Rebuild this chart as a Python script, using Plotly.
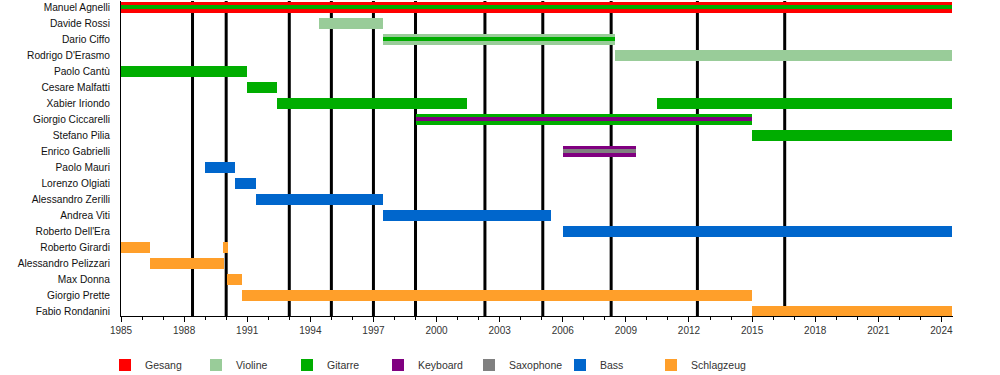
import plotly.graph_objects as go

members = ["Manuel Agnelli", "Davide Rossi", "Dario Ciffo", "Rodrigo D'Erasmo",
           "Paolo Cantù", "Cesare Malfatti", "Xabier Iriondo", "Giorgio Ciccarelli",
           "Stefano Pilia", "Enrico Gabrielli", "Paolo Mauri", "Lorenzo Olgiati",
           "Alessandro Zerilli", "Andrea Viti", "Roberto Dell'Era", "Roberto Girardi",
           "Alessandro Pelizzari", "Max Donna", "Giorgio Prette", "Fabio Rondanini"]

instruments = ["Gesang", "Violine", "Gitarre", "Keyboard", "Saxophone", "Bass", "Schlagzeug"]
colors = {"Gesang": "#FF0000", "Violine": "#99CC99", "Gitarre": "#00AD00",
          "Keyboard": "#800080", "Saxophone": "#808080", "Bass": "#0066CC",
          "Schlagzeug": "#FF9F2A"}

END = 2024.5

# main instrument of each stint: (member, instrument, start, end)
primary_stints = [
    ("Manuel Agnelli", "Gesang", 1985.0, END),
    ("Davide Rossi", "Violine", 1994.4, 1997.45),
    ("Dario Ciffo", "Violine", 1997.45, 2008.5),
    ("Rodrigo D'Erasmo", "Violine", 2008.5, END),
    ("Paolo Cantù", "Gitarre", 1985.0, 1991.0),
    ("Cesare Malfatti", "Gitarre", 1991.0, 1992.4),
    ("Xabier Iriondo", "Gitarre", 1992.4, 2001.47),
    ("Xabier Iriondo", "Gitarre", 2010.47, END),
    ("Giorgio Ciccarelli", "Gitarre", 1999.0, 2015.0),
    ("Stefano Pilia", "Gitarre", 2015.0, END),
    ("Enrico Gabrielli", "Keyboard", 2006.0, 2009.5),
    ("Paolo Mauri", "Bass", 1989.0, 1990.4),
    ("Lorenzo Olgiati", "Bass", 1990.4, 1991.4),
    ("Alessandro Zerilli", "Bass", 1991.4, 1997.45),
    ("Andrea Viti", "Bass", 1997.45, 2005.45),
    ("Roberto Dell'Era", "Bass", 2006.0, END),
    ("Roberto Girardi", "Schlagzeug", 1985.0, 1986.4),
    ("Roberto Girardi", "Schlagzeug", 1989.85, 1990.1),
    ("Alessandro Pelizzari", "Schlagzeug", 1986.4, 1989.9),
    ("Max Donna", "Schlagzeug", 1990.05, 1990.75),
    ("Giorgio Prette", "Schlagzeug", 1990.75, 2015.0),
    ("Fabio Rondanini", "Schlagzeug", 2015.0, END),
]

# secondary instrument of a stint
secondary_stints = [
    ("Manuel Agnelli", "Gitarre", 1985.0, END),
    ("Dario Ciffo", "Gitarre", 1997.45, 2008.5),
    ("Giorgio Ciccarelli", "Keyboard", 1999.0, 2015.0),
    ("Enrico Gabrielli", "Saxophone", 2006.0, 2009.5),
]

album_years = [1988.4, 1990.0, 1993.0, 1995.0, 1997.0, 1999.0, 2002.3, 2005.05,
               2008.3, 2012.4, 2016.55]

tick_years = list(range(1985, 2025, 3))

MAIN_W = 0.72
SEC_W = 0.25
FONT = "Liberation Sans, Arial, sans-serif"

fig = go.Figure()
for inst in instruments:
    ys, xs, bases, widths = [], [], [], []
    for m, i, s, e in primary_stints:
        if i == inst:
            ys.append(members.index(m)); xs.append(e - s); bases.append(s); widths.append(MAIN_W)
    for m, i, s, e in secondary_stints:
        if i == inst:
            ys.append(members.index(m)); xs.append(e - s); bases.append(s); widths.append(SEC_W)
    fig.add_trace(go.Bar(
        y=ys, x=xs, base=bases, width=widths, orientation="h", name=inst,
        marker=dict(color=colors[inst], line=dict(width=0)),
        showlegend=True, hoverinfo="skip",
    ))

# invisible spacer entry so the last legend label is not clipped
fig.add_trace(go.Bar(y=[None], x=[None], orientation="h", name=" ",
                     marker=dict(color="rgba(0,0,0,0)", line=dict(width=0)),
                     showlegend=True, hoverinfo="skip"))

for yr in album_years:
    fig.add_shape(type="line", xref="x", yref="paper", x0=yr, x1=yr, y0=0, y1=1,
                  line=dict(color="black", width=3), layer="below")

fig.update_layout(
    width=1000, height=375,
    margin=dict(l=121, r=47, t=1, b=59, autoexpand=False),
    plot_bgcolor="white", paper_bgcolor="white",
    barmode="overlay", bargap=0,
    font=dict(family=FONT, size=11, color="#000000"),
    showlegend=True,
    legend=dict(orientation="h", xref="container", yref="container",
                x=0.105, y=0.027, xanchor="left", yanchor="middle",
                entrywidth=46, entrywidthmode="pixels",
                font=dict(family=FONT, size=10.5, color="#333333"),
                traceorder="normal", itemclick=False),
    xaxis=dict(range=[1985, 2024.55], tickvals=tick_years, ticktext=[str(t) for t in tick_years],
               showgrid=False, zeroline=False, showline=True, linecolor="black", linewidth=1,
               ticks="outside", ticklen=5, tickcolor="black", automargin=False,
               minor=dict(dtick=1, ticks="outside", ticklen=3, tickcolor="black", showgrid=False),
               tickfont=dict(family=FONT, size=10, color="#333333")),
    yaxis=dict(range=[19.275, -0.394], tickvals=list(range(len(members))), ticktext=members,
               showgrid=False, zeroline=False, showline=True, linecolor="black", linewidth=1,
               ticks="", ticklabelstandoff=8, automargin=False,
               tickfont=dict(family=FONT, size=10.2, color="#111111")),
)

fig.write_html("out.html", config={"displayModeBar": False},
               post_script="document.body.style.margin='0px';document.body.style.overflow='hidden';")
